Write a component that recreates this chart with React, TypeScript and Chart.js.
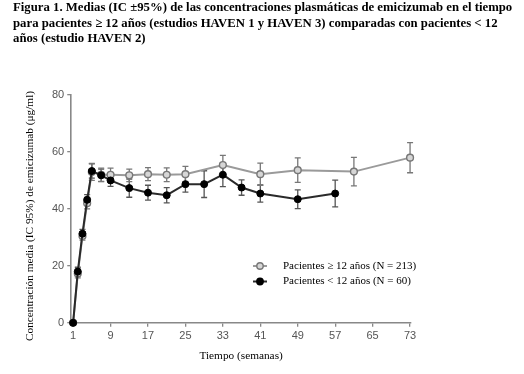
import React, { useEffect, useRef } from "react";
import { Chart, registerables } from "chart.js";
Chart.register(...registerables);

const titleLines = [
  "Figura 1. Medias (IC ±95%) de las concentraciones plasmáticas de emicizumab en el tiempo",
  "para pacientes ≥ 12 años (estudios HAVEN 1 y HAVEN 3) comparadas con pacientes < 12",
  "años (estudio HAVEN 2)",
];
const yTitle = "Concentración media (IC 95%) de emicizumab (μg/ml)";
const xTitle = "Tiempo (semanas)";
const xTicks = [1, 9, 17, 25, 33, 41, 49, 57, 65, 73];
const yTicks = [0, 20, 40, 60, 80];

const olderLabel = "Pacientes ≥ 12 años (N = 213)";
const olderWeeks = [1, 2, 3, 4, 5, 7, 9, 13, 17, 21, 25, 33, 41, 49, 61, 73];
const olderMeans = [0, 17.3, 30.5, 42, 53, 52, 52, 51.8, 52.2, 52, 52.2, 55.4, 52.2, 53.6, 53.1, 58];
const olderCI = [0, 1.5, 1.5, 2, 3, 2.3, 2.3, 2.2, 2.3, 2.4, 2.7, 3.4, 3.9, 4.3, 5, 5.3];

const youngerLabel = "Pacientes < 12 años (N = 60)";
const youngerWeeks = [1, 2, 3, 4, 5, 7, 9, 13, 17, 21, 25, 29, 33, 37, 41, 49, 57];
const youngerMeans = [0, 18, 31.3, 43.2, 53.3, 51.8, 50, 47.3, 45.7, 44.8, 48.7, 48.7, 52, 47.5, 45.4, 43.4, 45.4];
const youngerCI = [0, 1.5, 1.5, 1.8, 2.5, 2.2, 2.1, 3.2, 2.6, 2.7, 2.8, 4.7, 4.2, 2.7, 3, 3.3, 4.7];

const serif = "'Liberation Serif', 'Times New Roman', serif";
const sans = "'Liberation Sans', Arial, sans-serif";

export default function App() {
  const ref = useRef<HTMLCanvasElement | null>(null);

  useEffect(() => {
    if (!ref.current) return;

    const errorBars = {
      id: "errorBars",
      beforeDatasetsDraw(chart: any) {
        const ctx = chart.ctx;
        const xs = chart.scales.x;
        const ys = chart.scales.y;
        chart.data.datasets.forEach((ds: any) => {
          const ci: number[] = ds.ci;
          ctx.save();
          ctx.strokeStyle = ds.errColor;
          ctx.lineWidth = 1.3;
          ds.data.forEach((p: any, i: number) => {
            const h = ci[i];
            if (!h) return;
            const x = xs.getPixelForValue(p.x);
            const yt = ys.getPixelForValue(p.y + h);
            const yb = ys.getPixelForValue(p.y - h);
            ctx.beginPath();
            ctx.moveTo(x, yt);
            ctx.lineTo(x, yb);
            ctx.moveTo(x - 3, yt);
            ctx.lineTo(x + 3, yt);
            ctx.moveTo(x - 3, yb);
            ctx.lineTo(x + 3, yb);
            ctx.stroke();
          });
          ctx.restore();
        });
      },
    };

    const texts = {
      id: "texts",
      afterDraw(chart: any) {
        const ctx = chart.ctx;
        const ca = chart.chartArea;
        ctx.save();
        ctx.fillStyle = "#000";
        ctx.font = `11.3px ${serif}`;
        ctx.textAlign = "center";
        ctx.textBaseline = "middle";
        ctx.fillText(xTitle, (ca.left + ca.right) / 2, 356);
        ctx.translate(30, 216);
        ctx.rotate(-Math.PI / 2);
        ctx.fillText(yTitle, 0, 0);
        ctx.restore();

        // legend
        const items = [
          { label: olderLabel, ds: chart.data.datasets[1] },
          { label: youngerLabel, ds: chart.data.datasets[0] },
        ];
        items.forEach((it, i) => {
          const y = 266 + i * 15.5;
          ctx.save();
          ctx.strokeStyle = it.ds.borderColor;
          ctx.lineWidth = 2;
          ctx.beginPath();
          ctx.moveTo(253, y);
          ctx.lineTo(267, y);
          ctx.stroke();
          ctx.beginPath();
          ctx.arc(260, y, 3.2, 0, Math.PI * 2);
          ctx.fillStyle = it.ds.pointBackgroundColor;
          ctx.fill();
          ctx.lineWidth = 1.4;
          ctx.strokeStyle = it.ds.pointBorderColor;
          ctx.stroke();
          ctx.fillStyle = "#000";
          ctx.font = `11px ${serif}`;
          ctx.textAlign = "left";
          ctx.textBaseline = "middle";
          ctx.fillText(it.label, 283, y);
          ctx.restore();
        });
      },
    };

    const chart = new Chart(ref.current, {
      type: "line",
      data: {
        datasets: [
          {
            label: youngerLabel,
            data: youngerWeeks.map((w, i) => ({ x: w, y: youngerMeans[i] })),
            borderColor: "#2a2a2a",
            borderWidth: 2,
            pointBackgroundColor: "#000",
            pointBorderColor: "#000",
            pointRadius: 3.5,
            pointBorderWidth: 1,
            clip: false,
            ci: youngerCI,
            errColor: "#555",
          } as any,
          {
            label: olderLabel,
            data: olderWeeks.map((w, i) => ({ x: w, y: olderMeans[i] })),
            borderColor: "#9a9a9a",
            borderWidth: 2,
            pointBackgroundColor: "#d6d6d6",
            pointBorderColor: "#777",
            pointRadius: 3.4,
            pointBorderWidth: 1.4,
            clip: false,
            ci: olderCI,
            errColor: "#777",
          } as any,
        ],
      },
      options: {
        responsive: false,
        animation: false,
        devicePixelRatio: 1,
        layout: { padding: { top: 95, left: 49, right: 113, bottom: 28 } },
        plugins: { legend: { display: false }, tooltip: { enabled: false } },
        scales: {
          x: {
            type: "linear",
            min: 0.6,
            max: 73.2,
            afterBuildTicks: (axis: any) => {
              axis.ticks = xTicks.map((v) => ({ value: v }));
            },
            ticks: {
              color: "#555",
              font: { family: sans, size: 11 },
              padding: 3,
              maxRotation: 0,
              autoSkip: false,
            },
            grid: { drawOnChartArea: false, drawTicks: true, tickLength: 4, color: "#888", lineWidth: 1.3 },
            border: { color: "#888", width: 1.6 },
          },
          y: {
            type: "linear",
            min: 0,
            max: 80,
            afterBuildTicks: (axis: any) => {
              axis.ticks = yTicks.map((v) => ({ value: v }));
            },
            ticks: {
              color: "#555",
              font: { family: sans, size: 11 },
              padding: 3,
            },
            grid: { drawOnChartArea: false, drawTicks: true, tickLength: 4, color: "#888", lineWidth: 1.3 },
            border: { color: "#888", width: 1.6 },
          },
        },
      },
      plugins: [errorBars, texts],
    });
    return () => chart.destroy();
  }, []);

  return (
    <div style={{ position: "absolute", left: 0, top: 0, width: 524, height: 374, background: "#fff" }}>
      <canvas ref={ref} width={524} height={374} style={{ position: "absolute", left: 0, top: 0, width: 524, height: 374 }} />
      <div
        style={{
          position: "absolute",
          left: 13,
          top: 0,
          fontFamily: serif,
          fontWeight: "bold",
          fontSize: 12.75,
          lineHeight: "15.5px",
          color: "#000",
          whiteSpace: "nowrap",
        }}
      >
        {titleLines.map((l, i) => (
          <div key={i}>{l}</div>
        ))}
      </div>
    </div>
  );
}
